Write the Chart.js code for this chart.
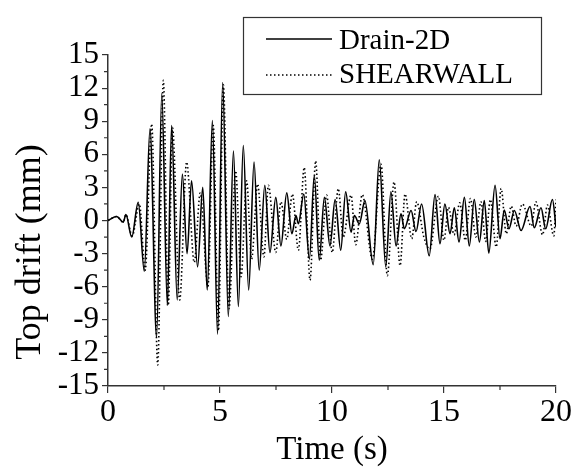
<!DOCTYPE html>
<html>
<head>
<meta charset="utf-8">
<script src="https://cdn.jsdelivr.net/npm/chart.js@4"></script>
<style>
  body { margin: 0; background: #fff; }
  #wrap { width: 575px; height: 470px; position: relative; }
</style>
</head>
<body>
<div id="wrap"><canvas id="driftChart"></canvas></div>
<script>
// Drain-2D (solid) - peaks / troughs
const timeDrain = [0, 0.39, 0.68, 0.80, 1.06, 1.35, 1.62, 1.875, 2.17, 2.40, 2.65, 2.84, 3.09, 3.32, 3.53, 3.73, 4.0, 4.23, 4.43, 4.66, 4.89, 5.12, 5.37, 5.60, 5.82, 6.04, 6.28, 6.52, 6.75, 7.0, 7.23, 7.49, 7.72, 7.98, 8.21, 8.39, 8.5, 8.74, 8.99, 9.21, 9.43, 9.66, 9.91, 10.14, 10.39, 10.61, 10.85, 11.0, 11.22, 11.47, 11.84, 12.11, 12.40, 12.63, 12.86, 13.08, 13.23, 13.53, 13.75, 14.0, 14.34, 14.6, 14.82, 15.04, 15.27, 15.46, 15.67, 15.91, 16.13, 16.35, 16.58, 16.8, 17.0, 17.28, 17.5, 17.69, 17.9, 18.14, 18.44, 18.84, 19.03, 19.33, 19.54, 19.84, 20.0];
const driftDrain = [0, 0.36, -0.15, 0.54, -1.5, 1.66, -4.6, 8.3, -10.6, 11.5, -7.7, 8.6, -7.2, 4.2, -3.0, 3.6, -4.2, 3.0, -6.3, 9.05, -10.3, 12.5, -8.7, 6.3, -7.8, 6.8, -6.3, 5.3, -4.5, 3.2, -2.9, 2.1, -2.3, 2.5, -1.2, 0.45, -0.3, 2.4, -3.5, 4.1, -3.6, 2.1, -2.3, 1.9, -2.7, 2.6, -1.05, 0.45, -0.3, 1.8, -4.0, 5.5, -4.2, 2.6, -2.3, 0.6, -0.75, 0.9, -1.0, 1.5, -3.2, 2.35, -2.1, 1.5, -1.2, 1.15, -1.95, 2.1, -2.3, 1.9, -1.95, 1.8, -2.95, 3.2, -1.65, 0.95, -0.75, 0.9, -0.9, 1.27, -0.66, 1.15, -0.75, 1.9, -0.6];

// SHEARWALL (dotted)
const timeShear = [0, 0.39, 0.68, 0.80, 1.08, 1.40, 1.66, 1.95, 2.22, 2.47, 2.69, 2.88, 3.20, 3.51, 3.85, 4.12, 4.46, 4.70, 4.93, 5.15, 5.40, 5.70, 5.94, 6.19, 6.41, 6.68, 6.96, 7.16, 7.49, 7.72, 7.98, 8.23, 8.50, 8.76, 9.02, 9.27, 9.49, 9.76, 10.01, 10.28, 10.50, 10.85, 11.06, 11.35, 11.80, 12.19, 12.47, 12.77, 13.04, 13.26, 13.56, 13.78, 14.10, 14.37, 14.75, 15.0, 15.2, 15.45, 15.7, 15.95, 16.18, 16.42, 16.65, 16.86, 17.07, 17.33, 17.55, 17.78, 18.0, 18.22, 18.5, 18.9, 19.1, 19.4, 19.62, 19.9, 20.0];
const driftShear = [0, 0.36, -0.15, 0.54, -1.4, 1.5, -4.5, 8.75, -13.1, 12.7, -7.7, 8.4, -7.2, 5.3, -3.8, 2.5, -6.0, 8.6, -10.0, 12.3, -8.0, 4.5, -5.1, 3.6, -3.5, 3.3, -3.3, 3.2, -2.9, 1.7, -1.7, 2.4, -2.7, 4.8, -5.4, 5.4, -3.6, 2.3, -2.9, 2.9, -1.5, 2.3, -2.2, 2.35, -3.5, 5.1, -5.0, 3.5, -4.1, 2.4, -1.65, 1.7, -1.5, -2.6, 2.2, -1.8, 1.2, -1.3, 1.6, -1.8, 2.0, -1.5, 1.7, -1.9, 1.9, -2.4, 2.9, -1.2, 1.3, -0.5, 1.5, -0.5, 1.7, -1.3, 1.4, -1.4, 1.9, 1.0];

const xTicks = [0, 5, 10, 15, 20];
const yTicks = [-15, -12, -9, -6, -3, 0, 3, 6, 9, 12, 15];
const xMinorStep = 2.5;
const yMinorStep = 1.5;

const serif = '"Liberation Serif", "Times New Roman", serif';

function toPoints(xs, ys) {
    return xs.map((x, i) => ({ x: x, y: ys[i] }));
}

// minor ticks, axis titles and the boxed legend
const decorations = {
    id: 'decorations',
    afterDraw(chart) {
        const ctx = chart.ctx;
        const xs = chart.scales.x;
        const ys = chart.scales.y;
        const area = chart.chartArea;
        ctx.save();
        ctx.strokeStyle = '#333';
        ctx.lineWidth = 1.2;
        ctx.beginPath();
        for (let v = xs.min + xMinorStep; v < xs.max; v += xMinorStep * 2) {
            const px = xs.getPixelForValue(v);
            ctx.moveTo(px, area.bottom);
            ctx.lineTo(px, area.bottom + 4);
        }
        for (let v = ys.min + yMinorStep; v < ys.max; v += yMinorStep * 2) {
            const py = ys.getPixelForValue(v);
            ctx.moveTo(area.left, py);
            ctx.lineTo(area.left - 4, py);
        }
        ctx.stroke();

        ctx.fillStyle = '#000';
        ctx.font = '33px ' + serif;
        ctx.textAlign = 'center';
        ctx.textBaseline = 'alphabetic';
        ctx.fillText('Time (s)', (area.left + area.right) / 2, 459);

        ctx.save();
        ctx.translate(40, 252);
        ctx.rotate(-Math.PI / 2);
        ctx.font = '36px ' + serif;
        ctx.fillText('Top drift (mm)', 0, 0);
        ctx.restore();

        // legend
        ctx.fillStyle = '#fff';
        ctx.fillRect(243, 17, 298, 77);
        ctx.strokeStyle = '#333';
        ctx.lineWidth = 1.2;
        ctx.strokeRect(243.5, 17.5, 298, 77);
        ctx.strokeStyle = '#000';
        ctx.lineWidth = 1.5;
        ctx.beginPath();
        ctx.moveTo(266, 39);
        ctx.lineTo(332, 39);
        ctx.stroke();
        ctx.setLineDash([1.5, 2.5]);
        ctx.beginPath();
        ctx.moveTo(266, 75);
        ctx.lineTo(332, 75);
        ctx.stroke();
        ctx.setLineDash([]);
        ctx.fillStyle = '#000';
        ctx.font = '29px ' + serif;
        ctx.textAlign = 'left';
        ctx.textBaseline = 'middle';
        ctx.fillText('Drain-2D', 339, 41);
        ctx.fillText('SHEARWALL', 339, 75);
        ctx.restore();
    }
};

const ctx = document.getElementById('driftChart').getContext('2d');
new Chart(ctx, {
    type: 'line',
    data: {
        datasets: [{
            label: 'Drain-2D',
            data: toPoints(timeDrain, driftDrain),
            borderColor: '#000',
            borderWidth: 1.6,
            pointRadius: 0,
            cubicInterpolationMode: 'monotone',
            fill: false
        }, {
            label: 'SHEARWALL',
            data: toPoints(timeShear, driftShear),
            borderColor: '#000',
            borderWidth: 1.6,
            borderDash: [1.5, 2.5],
            pointRadius: 0,
            cubicInterpolationMode: 'monotone',
            fill: false
        }]
    },
    options: {
        responsive: true,
        maintainAspectRatio: false,
        animation: false,
        layout: { padding: { left: 0, top: 55, right: 19, bottom: 0 } },
        plugins: {
            legend: { display: false },
            tooltip: { enabled: false }
        },
        scales: {
            x: {
                type: 'linear',
                min: 0,
                max: 20,
                afterFit: s => { s.height = 84; },
                afterBuildTicks: s => { s.ticks = xTicks.map(v => ({ value: v })); },
                border: { display: true, color: '#333', width: 1.5 },
                grid: { drawOnChartArea: false, drawTicks: true, tickLength: 7, color: '#333', lineWidth: 1.2 },
                ticks: { color: '#000', padding: 0, autoSkip: false, maxRotation: 0, font: { family: serif, size: 32 } }
            },
            y: {
                type: 'linear',
                min: -15,
                max: 15,
                afterFit: s => { s.width = 108; },
                afterBuildTicks: s => { s.ticks = yTicks.map(v => ({ value: v })); },
                border: { display: true, color: '#333', width: 1.5 },
                grid: { drawOnChartArea: false, drawTicks: true, tickLength: 6, color: '#333', lineWidth: 1.2 },
                ticks: { color: '#000', padding: 3, autoSkip: false, font: { family: serif, size: 31 } }
            }
        }
    },
    plugins: [decorations]
});
</script>
</body>
</html>
